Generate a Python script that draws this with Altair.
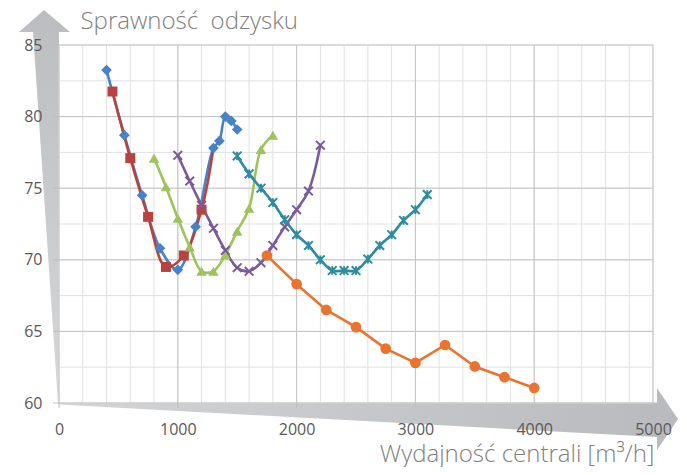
import altair as alt
import pandas as pd

# ---- data ----
blue_x = [400, 550, 700, 850, 1000, 1150, 1300, 1350, 1400, 1450, 1500]
blue_y = [83.25, 78.7, 74.5, 70.8, 69.3, 72.3, 77.8, 78.3, 80.0, 79.7, 79.1]

red_x = [450, 600, 750, 900, 1050, 1200, 1300]
red_y = [81.75, 77.1, 73.0, 69.5, 70.3, 73.5, 77.8]

green_x = [800, 900, 1000, 1100, 1200, 1300, 1400, 1500, 1600, 1700, 1800]
green_y = [77.1, 75.1, 72.9, 70.9, 69.2, 69.2, 70.35, 72.0, 73.6, 77.7, 78.7]

purple_x = [1000, 1100, 1200, 1300, 1400, 1500, 1600, 1700, 1800, 1900, 2000, 2100, 2200]
purple_y = [77.3, 75.5, 73.8, 72.2, 70.65, 69.45, 69.2, 69.8, 71.0, 72.3, 73.5, 74.8, 78.0]

teal_x = [1500, 1600, 1700, 1800, 1900, 2000, 2100, 2200, 2300, 2400, 2500,
          2600, 2700, 2800, 2900, 3000, 3100]
teal_y = [77.25, 76.0, 75.0, 74.0, 72.8, 71.75, 71.0, 70.0, 69.25, 69.25, 69.25,
          70.05, 71.0, 71.75, 72.75, 73.5, 74.55]

orange_x = [1750, 2000, 2250, 2500, 2750, 3000, 3250, 3500, 3750, 4000]
orange_y = [70.3, 68.3, 66.5, 65.3, 63.8, 62.8, 64.05, 62.55, 61.8, 61.05]

x_major = [0, 1000, 2000, 3000, 4000, 5000]
x_minor = list(range(0, 5001, 200))
y_major = [60, 65, 70, 75, 80, 85]
y_minor = [60, 62.5, 65, 67.5, 70, 72.5, 75, 77.5, 80, 82.5, 85]

y_title = "Sprawność\u00a0 odzysku"
x_title = "Wydajność centrali [m³/h]"

W, H = 594, 358
FONT = "Open Sans"

xs = alt.Scale(domain=[0, 5000], nice=False, zero=False)
ys = alt.Scale(domain=[60, 85], nice=False, zero=False)

one = pd.DataFrame({"k": [0]})

# decorative arrows (custom symbol paths, size=4 -> path units are pixels)
v_arrow_path = "M -15 -35 L 11 -13 L 0 -13 L 0 358 L -1 358 L -26 -13 L -40 -13 Z"
h_arrow_path = "M 0 358 L 598 357.5 L 598 343 L 619 374 L 598 405 L 598 392 L 0 359.5 Z"

v_arrow = alt.Chart(one).mark_point(
    shape=v_arrow_path, size=4, filled=True, opacity=1, strokeWidth=0,
    fill=alt.Gradient(gradient="linear", x1=0, x2=0, y1=0, y2=1,
                      stops=[alt.GradientStop(color="#bcbdc0", offset=0),
                             alt.GradientStop(color="#d6d7d9", offset=1)])
).encode(x=alt.value(0), y=alt.value(0))

h_arrow = alt.Chart(one).mark_point(
    shape=h_arrow_path, size=4, filled=True, opacity=1, strokeWidth=0,
    fill=alt.Gradient(gradient="linear", x1=0, x2=1, y1=0, y2=0,
                      stops=[alt.GradientStop(color="#d3d4d6", offset=0),
                             alt.GradientStop(color="#b9babd", offset=1)])
).encode(x=alt.value(0), y=alt.value(0))

x_axis = alt.Axis(values=x_major, format="d", grid=False, ticks=False, tickSize=0,
                  domain=False,
                  labelFont=FONT, labelFontSize=16, labelColor="#595959",
                  labelPadding=18, labelFlush=False, zindex=1,
                  title=x_title, titleFont=FONT, titleFontSize=24,
                  titleFontWeight=300, titleColor="#808080",
                  titleAngle=0, titleAlign="right", titleBaseline="alphabetic",
                  titleX=595, titleY=58)
y_axis = alt.Axis(values=y_major, format="d", grid=False, ticks=False, tickSize=0,
                  domain=False,
                  labelFont=FONT, labelFontSize=16, labelColor="#595959",
                  labelPadding=17, labelFlush=False, zindex=1,
                  title=y_title, titleFont=FONT, titleFontSize=24,
                  titleFontWeight=300, titleColor="#808080",
                  titleAngle=0, titleAlign="left", titleBaseline="alphabetic",
                  titleX=21, titleY=-17)

X = lambda: alt.X("x:Q", scale=xs, axis=x_axis)
Y = lambda: alt.Y("y:Q", scale=ys, axis=y_axis)

vminor = alt.Chart(pd.DataFrame({"x": x_minor})).mark_rule(
    color="#e1e1e1", strokeWidth=1).encode(x=X())
hminor = alt.Chart(pd.DataFrame({"y": y_minor})).mark_rule(
    color="#e1e1e1", strokeWidth=1).encode(y=Y())
vmajor = alt.Chart(pd.DataFrame({"x": x_major})).mark_rule(
    color="#c4c4c4", strokeWidth=1).encode(x=X())
hmajor = alt.Chart(pd.DataFrame({"y": y_major})).mark_rule(
    color="#c4c4c4", strokeWidth=1).encode(y=Y())
xticks = alt.Chart(pd.DataFrame({"x": x_major})).mark_rule(
    color="#bdbdbd", strokeWidth=1).encode(
    x=X(), y=alt.value(H), y2=alt.value(H + 5))
yticks = alt.Chart(pd.DataFrame({"y": y_major})).mark_rule(
    color="#bdbdbd", strokeWidth=1).encode(
    y=Y(), x=alt.value(-6), x2=alt.value(0))

XMARK = "M -1 -1 L 1 1 M -1 1 L 1 -1"
STAR = "M -1 -1 L 1 1 M -1 1 L 1 -1 M 0 -1 L 0 1"

series = [
    (blue_x, blue_y, "#4682c8", "catmull-rom",
     dict(shape="diamond", size=115, filled=True), None),
    (red_x, red_y, "#b8433e", "catmull-rom",
     dict(shape="square", size=100, filled=True), -1),
    (green_x, green_y, "#9dc35a", "catmull-rom",
     dict(shape="triangle-up", size=110, filled=True), None),
    (purple_x, purple_y, "#7b5a9b", "catmull-rom",
     dict(shape=XMARK, size=75, filled=False, strokeWidth=2), None),
    (teal_x, teal_y, "#2e8ca0", "catmull-rom",
     dict(shape=STAR, size=75, filled=False, strokeWidth=2), None),
    (orange_x, orange_y, "#ea7330", "linear",
     dict(shape="circle", size=115, filled=True), None),
]

line_layers = []
point_layers = []
for sx, sy, col, interp, mk, cut in series:
    df = pd.DataFrame({"x": sx, "y": sy})
    line_layers.append(
        alt.Chart(df).mark_line(color=col, strokeWidth=2.6, interpolate=interp,
                                strokeCap="round", strokeJoin="round").encode(
            x=X(), y=Y())
    )
    pdf = df if cut is None else df.iloc[:cut]
    point_layers.append(
        alt.Chart(pdf).mark_point(color=col, opacity=1, **mk).encode(x=X(), y=Y())
    )

chart = alt.layer(
    v_arrow, h_arrow, vminor, hminor, vmajor, hmajor, xticks, yticks,
    *line_layers, *point_layers
).properties(
    width=W, height=H,
    padding={"left": 51, "top": 37, "right": 26, "bottom": 64},
    autosize=alt.AutoSizeParams(type="none"),
    background="white",
).configure_view(stroke=None)

chart.save("out.html", embed_options={"renderer": "svg", "actions": False})
